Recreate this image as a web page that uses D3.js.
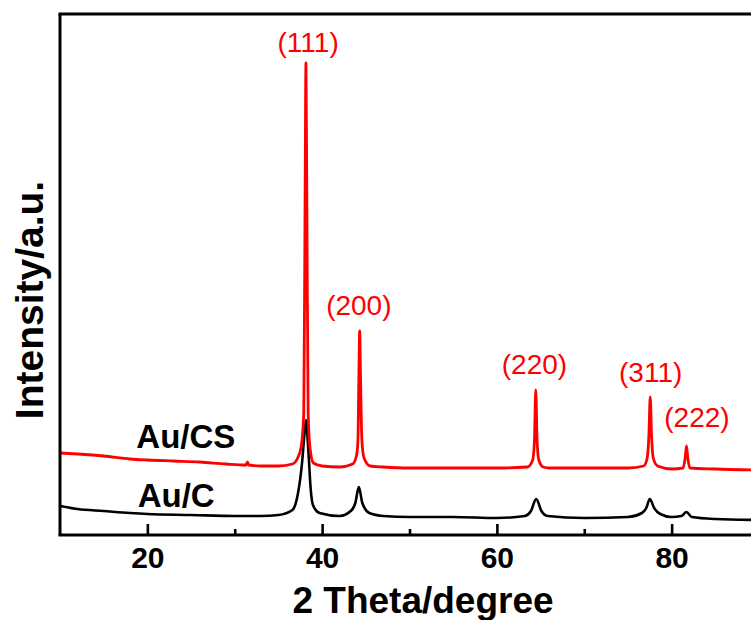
<!DOCTYPE html>
<html>
<head>
<meta charset="utf-8">
<script src="https://cdn.jsdelivr.net/npm/d3@7"></script>
<style>
  html, body { margin: 0; padding: 0; background: #fff; }
  svg { display: block; }
  text { font-family: "Liberation Sans", Arial, sans-serif; }
</style>
</head>
<body>
<script>
// ---- data (2θ in degrees, intensity in a.u.) ----
const redTheta = [10,12,15,18,20,23,26,29,31.3,31.45,31.6,33,35,36.6,37.2,37.6,37.9,38.05,38.15,38.25,38.4,38.6,39,40,42,43.5,43.95,44.1,44.2,44.3,44.4,44.55,44.8,45.5,47,50,55,60,63.5,64.1,64.3,64.45,64.6,64.8,65.3,66,70,75,76.8,77.2,77.4,77.55,77.7,77.9,78.4,80,81.3,81.55,81.7,81.85,82.1,85,90];
const redInt   = [82,81,79,76,75,74,73,71,70,73,70,69,69,71,77,88,122,335,472,335,122,88,72,69,68,71,80,95,155,204,155,95,77,69,68,67,67,67,68,75,95,145,95,75,68,67,67,67,69,77,100,138,100,77,69,66,67,77,89,77,67,66,65];

const blackTheta = [10,12,15,18,20,25,30,33,35,36.6,37.2,37.7,37.95,38.15,38.4,38.7,38.95,39.7,42,43.4,43.8,44.2,44.6,45.4,47,50,55,60,63.2,63.9,64.5,65.1,65.8,70,75,76.6,77.1,77.5,78.0,78.7,80,81.1,81.7,82.3,85,90];
const blackInt   = [29,26,24,22,21,20,19,19,20,25,40,72,98,115,88,45,30,22,19,25,32,48,32,22,19,18,18,17,19,24,36,24,19,17,18,22,27,36,27,21,18,19,23,18,16,15];

const xTicksMajor = [20,40,60,80];
const xTicksMinor = [30,50,70];

const peakLabels = ["(111)","(200)","(220)","(311)","(222)"];
const peakTheta  = [38.4,44.2,64.3,77.6,82.9];
const peakLabelInt = [483,220,161,153,108];

const seriesNames = ["Au/CS","Au/C"];
const seriesLabelTheta = [24.4,23.3];
const seriesLabelInt = [87,28];

// ---- chart ----
const W = 751, H = 620;
const svg = d3.select("body").append("svg").attr("width", W).attr("height", H);

const x = d3.scaleLinear().domain([10, 90]).range([60, 759]);
const y = d3.scaleLinear().domain([0, 521]).range([535, 14]);

const line = d3.line().x(d => x(d[0])).y(d => y(d[1])).curve(d3.curveMonotoneX);

const red = d3.zip(redTheta, redInt);
const black = d3.zip(blackTheta, blackInt);

svg.append("path").datum(black).attr("d", line)
  .attr("fill", "none").attr("stroke", "#000").attr("stroke-width", 2.6).attr("stroke-linejoin", "round");
svg.append("path").datum(red).attr("d", line)
  .attr("fill", "none").attr("stroke", "#ff0000").attr("stroke-width", 2.8).attr("stroke-linejoin", "round");

// frame: left, top
svg.append("line").attr("x1", x(10)).attr("x2", x(10)).attr("y1", y(521)).attr("y2", y(0))
  .attr("stroke", "#000").attr("stroke-width", 3);
svg.append("line").attr("x1", x(10) - 1.5).attr("x2", W + 5).attr("y1", y(521)).attr("y2", y(521))
  .attr("stroke", "#000").attr("stroke-width", 3);

// bottom axis with inward ticks
const xAxis = d3.axisBottom(x).tickValues(xTicksMajor).tickSize(-11).tickPadding(12).tickFormat(d3.format("d"));
const gx = svg.append("g").attr("transform", `translate(0,${y(0)})`).call(xAxis);
gx.select(".domain").attr("stroke-width", 3).attr("d", `M${x(10) - 1.5},0H${W + 5}`);
gx.selectAll(".tick line").attr("stroke-width", 2.6);
gx.selectAll(".tick text").attr("font-size", 30).attr("font-weight", "bold")
  .attr("font-family", "Liberation Sans, Arial, sans-serif").attr("fill", "#000");

const xMinor = d3.axisBottom(x).tickValues(xTicksMinor).tickSize(-6).tickFormat("");
const gm = svg.append("g").attr("transform", `translate(0,${y(0)})`).call(xMinor);
gm.select(".domain").remove();
gm.selectAll(".tick line").attr("stroke-width", 2.6);

// axis titles
svg.append("text").attr("x", 423).attr("y", 613).attr("text-anchor", "middle")
  .attr("font-size", 37).attr("font-weight", "bold").text("2 Theta/degree");
svg.append("text").attr("transform", "translate(43,300) rotate(-90)").attr("text-anchor", "middle")
  .attr("font-size", 39).attr("font-weight", "bold").text("Intensity/a.u.");

// peak labels
svg.selectAll(".peak").data(peakLabels).enter().append("text")
  .attr("class", "peak")
  .attr("x", (d, i) => x(peakTheta[i]))
  .attr("y", (d, i) => y(peakLabelInt[i]))
  .attr("text-anchor", "middle").attr("font-size", 28).attr("fill", "#ff0000").text(d => d);

// series labels
svg.selectAll(".series").data(seriesNames).enter().append("text")
  .attr("class", "series")
  .attr("x", (d, i) => x(seriesLabelTheta[i]))
  .attr("y", (d, i) => y(seriesLabelInt[i]))
  .attr("text-anchor", "middle").attr("font-size", 33).attr("font-weight", "bold").attr("fill", "#000").text(d => d);
</script>
</body>
</html>
